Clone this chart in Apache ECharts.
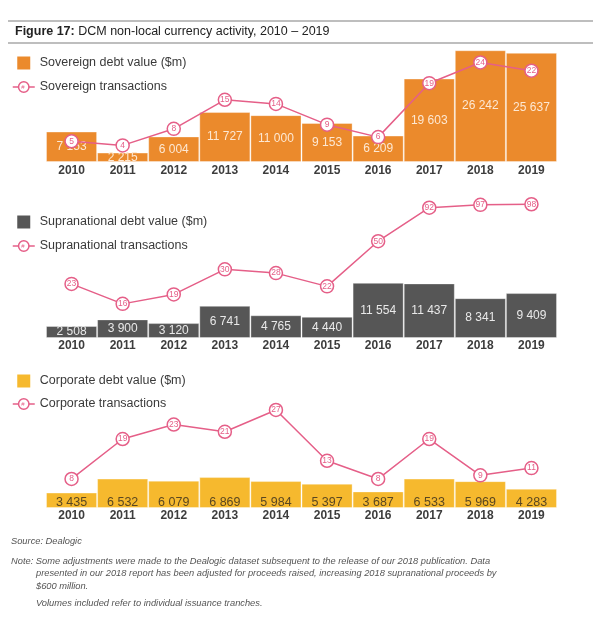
<!DOCTYPE html>
<html>
<head>
<meta charset="utf-8">
<script src="https://cdn.jsdelivr.net/npm/echarts@6/dist/echarts.min.js"></script>
<style>
html,body{margin:0;padding:0;background:#fff;}
#c{width:601px;height:623px;}
</style>
</head>
<body>
<div id="c"></div>
<script>
const years = ['2010','2011','2012','2013','2014','2015','2016','2017','2018','2019'];
const sovereignValue = [7153, 2215, 6004, 11727, 11000, 9153, 6209, 19603, 26242, 25637];
const sovereignTx = [5, 4, 8, 15, 14, 9, 6, 19, 24, 22];
const supraValue = [2508, 3900, 3120, 6741, 4765, 4440, 11554, 11437, 8341, 9409];
const supraTx = [23, 16, 19, 30, 28, 22, 50, 92, 97, 98];
const corpValue = [3435, 6532, 6079, 6869, 5984, 5397, 3687, 6533, 5969, 4283];
const corpTx = [8, 19, 23, 21, 27, 13, 8, 19, 9, 11];

const names = {
  sovBar: 'Sovereign debt value ($m)', sovLine: 'Sovereign transactions',
  supBar: 'Supranational debt value ($m)', supLine: 'Supranational transactions',
  corBar: 'Corporate debt value ($m)', corLine: 'Corporate transactions'
};

const ORANGE = '#eb8a2c', GREY = '#565656', YELLOW = '#f6b92e', PINK = '#e55f88';
const FONT = '"Liberation Sans", Arial, sans-serif';
const fmt = v => String(v).replace(/\B(?=(\d{3})+(?!\d))/g, ' ');

const chart = echarts.init(document.getElementById('c'), null, {renderer: 'canvas'});

const grids = [
  {left: 46, right: 44, top: 50, height: 112},
  {left: 46, right: 44, top: 190, height: 148},
  {left: 46, right: 44, top: 400, height: 108}
];

function xAxis(i, margin) {
  return {
    type: 'category', gridIndex: i, data: years, boundaryGap: true,
    axisLine: {show: false}, axisTick: {show: false}, splitLine: {show: false},
    axisLabel: {margin: margin, fontSize: 12, fontWeight: 'bold', color: '#3d3d3d', fontFamily: FONT}
  };
}
function yHidden(i, extra) {
  return Object.assign({gridIndex: i, show: false, splitLine: {show: false}}, extra);
}

function barSeries(name, data, idx, color, labelColor, pos, fs) {
  return {
    name: name, type: 'bar', xAxisIndex: idx, yAxisIndex: idx * 2, data: data,
    barCategoryGap: '0%', barWidth: '100%',
    itemStyle: {color: color, borderColor: 'rgba(255,255,255,0.35)', borderWidth: 1},
    label: {show: true, position: pos, distance: 0, offset: pos === 'insideBottom' ? [0, 1] : [0, 0],
      color: labelColor, fontSize: fs, fontFamily: FONT, formatter: p => fmt(p.value)},
    z: 2
  };
}
function lineSeries(name, data, idx) {
  return {
    name: name, type: 'line', xAxisIndex: idx, yAxisIndex: idx * 2 + 1, data: data,
    symbol: 'circle', symbolSize: 13,
    lineStyle: {color: PINK, width: 1.5},
    itemStyle: {color: '#ffffff', borderColor: PINK, borderWidth: 1.5},
    label: {show: true, position: 'inside', color: PINK, fontSize: 8.5, fontFamily: FONT},
    z: 5
  };
}

const LEG_LEFT = 12, LEG_W = 22;
function legend(top, barName, lineName, barColor, gap) {
  return {
    orient: 'vertical', left: LEG_LEFT, top: top, padding: 0, itemWidth: LEG_W, itemHeight: 13, itemGap: gap,
    selectedMode: false, symbolKeepAspect: true,
    textStyle: {fontSize: 12.5, color: '#3a3a3a', fontFamily: FONT},
    data: [
      {name: barName, icon: 'path://M0,0H10V10H0Z', itemStyle: {color: barColor, borderWidth: 0}},
      {name: lineName, itemStyle: {color: '#ffffff', borderColor: PINK, borderWidth: 1.5}, lineStyle: {color: PINK, width: 1.5}}
    ]
  };
}
const hashX = LEG_LEFT + LEG_W / 2;
function hash(y) {
  return {type: 'text', x: hashX, y: y, z: 100, style: {text: '#', fontSize: 6, fill: PINK, align: 'center', verticalAlign: 'middle', fontFamily: FONT}};
}
function foot(x, y, t) {
  return {type: 'text', x: x, y: y, style: {text: t, font: 'italic 9.3px ' + FONT, fill: '#555', verticalAlign: 'middle'}};
}

const option = {
  animation: false,
  backgroundColor: '#ffffff',
  grid: grids,
  legend: [
    legend(56.5, names.sovBar, names.sovLine, ORANGE, 11),
    legend(215.5, names.supBar, names.supLine, GREY, 11),
    legend(374.5, names.corBar, names.corLine, YELLOW, 10)
  ],
  xAxis: [xAxis(0, 3), xAxis(1, 2), xAxis(2, 2)],
  yAxis: [
    yHidden(0, {type: 'value', min: 0, max: 26300}),
    yHidden(0, {type: 'value', min: 0, max: 27}),
    yHidden(1, {type: 'value', min: 0, max: 31000}),
    yHidden(1, {type: 'log', min: 8.6, max: 127}),
    yHidden(2, {type: 'value', min: 0, max: 24000}),
    yHidden(2, {type: 'value', min: 0, max: 29.75})
  ],
  series: [
    barSeries(names.sovBar, sovereignValue, 0, ORANGE, '#fde8d3', 'inside', 12),
    lineSeries(names.sovLine, sovereignTx, 0),
    barSeries(names.supBar, supraValue, 1, GREY, '#e9e9e9', 'inside', 12),
    lineSeries(names.supLine, supraTx, 1),
    barSeries(names.corBar, corpValue, 2, YELLOW, '#5a4721', 'insideBottom', 12.5),
    lineSeries(names.corLine, corpTx, 2)
  ],
  graphic: [
    {type: 'line', shape: {x1: 8, y1: 21, x2: 593, y2: 21}, style: {stroke: '#a9a9a9', lineWidth: 1.5}},
    {type: 'line', shape: {x1: 8, y1: 43, x2: 593, y2: 43}, style: {stroke: '#a9a9a9', lineWidth: 1.5}},
    {type: 'text', left: 15, top: 25, style: {
      text: '{b|Figure 17:} DCM non-local currency activity, 2010 – 2019',
      font: '12.5px ' + FONT, fill: '#222',
      rich: {b: {fontWeight: 'bold', fontSize: 12.5, fontFamily: FONT, fill: '#222'}}
    }},
    hash(63 + 24), hash(222 + 24), hash(381 + 23),
    foot(11, 541, 'Source: Dealogic'),
    foot(11, 561, 'Note: Some adjustments were made to the Dealogic dataset subsequent to the release of our 2018 publication. Data'),
    foot(36, 573.5, 'presented in our 2018 report has been adjusted for proceeds raised, increasing 2018 supranational proceeds by'),
    foot(36, 586, '$600 million.'),
    foot(36, 603, 'Volumes included refer to individual issuance tranches.')
  ]
};
chart.setOption(option);
</script>
</body>
</html>
